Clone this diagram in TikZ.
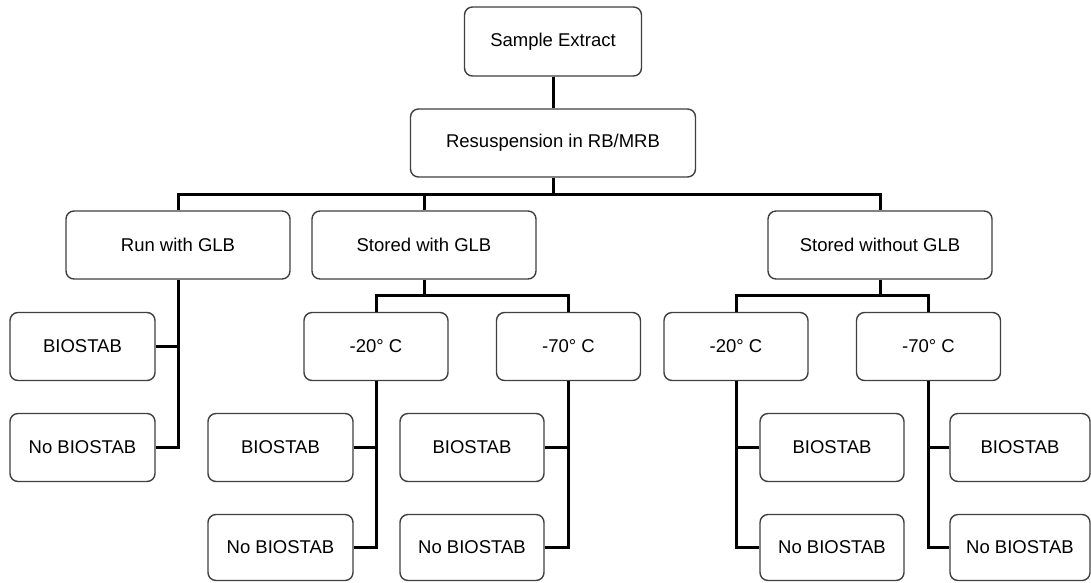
\documentclass[tikz,border=0pt]{standalone}
\usepackage{fontspec}
\setmainfont{Liberation Sans}
\begin{document}
\begin{tikzpicture}[x=1pt,y=-1pt,
  box/.style={draw=black!75, line width=1.4pt, rounded corners=8pt, fill=white,
    inner sep=0pt, minimum height=68pt, font=\fontsize{18.5}{22}\selectfont, text=black},
  wbox/.style={box, minimum width=224pt},
  sbox/.style={box, minimum width=144pt},
  link/.style={draw=black, line width=3pt, line join=miter}]
\useasboundingbox[fill=white] (0,0) rectangle (1091,582);
% top
\node[box, minimum width=177pt, minimum height=69pt] (se) at (553,41.5) {Sample Extract};
\node[box, minimum width=285pt] (rs) at (553,143) {Resuspension in RB/MRB};
% second level
\node[wbox] (run) at (178,245) {Run with GLB};
\node[wbox] (swg) at (424,245) {Stored with GLB};
\node[wbox] (swo) at (880,245) {Stored without GLB};
% left column
\node[sbox, minimum width=145pt] (lb) at (82.5,346.5) {BIOSTAB};
\node[sbox, minimum width=145pt] (lnb) at (82.5,447.5) {No BIOSTAB};
% temperatures
\node[sbox] (a20) at (376,346.5) {-20° C};
\node[sbox] (a70) at (568.5,346.5) {-70° C};
\node[sbox] (b20) at (736,346.5) {-20° C};
\node[sbox] (b70) at (928.5,346.5) {-70° C};
% leaves
\node[sbox, minimum width=145pt] (a20b) at (280.5,447.5) {BIOSTAB};
\node[sbox, minimum width=145pt, minimum height=66pt] (a20n) at (280.5,547.5) {No BIOSTAB};
\node[sbox] (a70b) at (472,447.5) {BIOSTAB};
\node[sbox, minimum height=66pt] (a70n) at (472,547.5) {No BIOSTAB};
\node[sbox] (b20b) at (832,447.5) {BIOSTAB};
\node[sbox, minimum height=66pt] (b20n) at (832,547.5) {No BIOSTAB};
\node[sbox, minimum width=140pt] (b70b) at (1020,447.5) {BIOSTAB};
\node[sbox, minimum width=140pt, minimum height=66pt] (b70n) at (1020,547.5) {No BIOSTAB};
% helper levels
\coordinate (h1) at (553,194);
\coordinate (h2) at (424,295);
% connectors
\draw[link] (se.south) -- (rs.north);
\draw[link] (rs.south) -- (rs.south |- h1);
\draw[link] (run.north) |- (swo.north |- h1) -- (swo.north);
\draw[link] (swg.north) -- (swg.north |- h1);
% run with GLB
\draw[link] (run.south) |- (lnb.east);
\draw[link] (lb.east) -- (lb.east -| run.south);
% stored with GLB
\draw[link] (swg.south) -- (swg.south |- h2);
\draw[link] (a20.north) |- (a70.north |- h2) -- (a70.north);
\draw[link] (a20.south) |- (a20n.east);
\draw[link] (a20b.east) -- (a20b.east -| a20.south);
\draw[link] (a70.south) |- (a70n.east);
\draw[link] (a70b.east) -- (a70b.east -| a70.south);
% stored without GLB
\draw[link] (swo.south) -- (swo.south |- h2);
\draw[link] (b20.north) |- (b70.north |- h2) -- (b70.north);
\draw[link] (b20.south) |- (b20n.west);
\draw[link] (b20b.west) -- (b20b.west -| b20.south);
\draw[link] (b70.south) |- (b70n.west);
\draw[link] (b70b.west) -- (b70b.west -| b70.south);
\end{tikzpicture}
\end{document}
